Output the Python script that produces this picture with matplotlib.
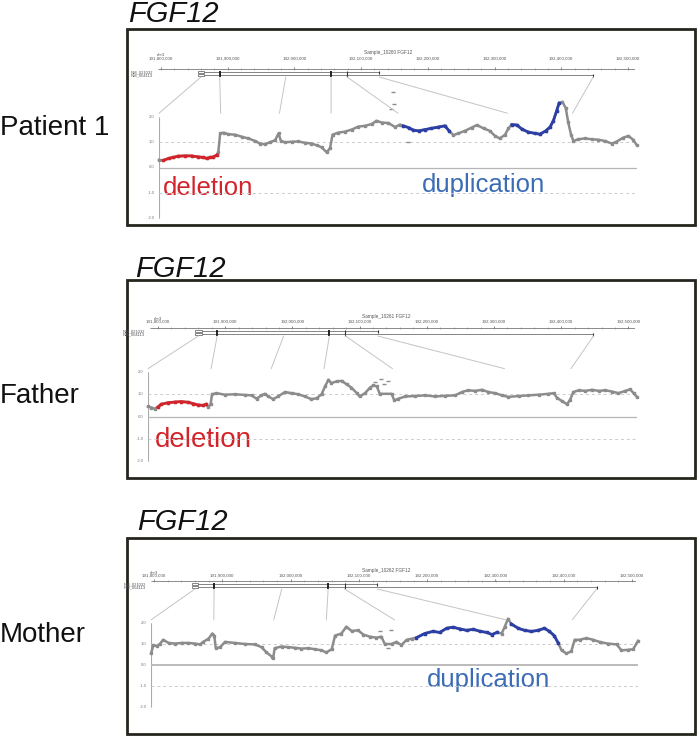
#!/usr/bin/env python3
"""Copy-number tracks across FGF12 for a patient and both parents."""

import matplotlib
matplotlib.use("Agg")
import matplotlib.pyplot as plt
from matplotlib.patches import Rectangle, ConnectionPatch
import numpy as np

plt.rcParams["font.family"] = ["Liberation Sans", "DejaVu Sans"]

W, H = 698, 737

ROW_LABELS = ["Patient 1", "Father", "Mother"]
GENE = "FGF12"
SAMPLES = ["Sample_10260 FGF12", "Sample_10261 FGF12", "Sample_10262 FGF12"]
RULER_TICKS = [191.8, 191.9, 192.0, 192.1, 192.2, 192.3, 192.4, 192.5]
TRANSCRIPTS = ["NM_021032", "NM_004113"]

# gene model (Mb)
TX_START = 191.860
TX_END = [192.127, 192.448]
EXONS = [191.888, 192.055, 192.079]

# zoom lines: gene position (Mb) -> probe position (% of probes)
LINK_GENE = [191.860, 191.888, 191.987, 192.055, 192.079, 192.127, 192.448]
LINK_PROBE = [0.0, 12.9, 25.2, 36.0, 50.0, 72.9, 86.5]

# log-ratio style values along probe position (%)
P1_POS = [0.0, 0.9, 2.0, 3.0, 4.0, 5.4, 6.8, 8.2, 9.3, 10.0, 10.7, 11.4, 12.1, 12.4,
          12.8, 13.5, 14.5, 15.9, 17.3, 18.7, 20.1, 21.1, 22.2, 23.2, 24.3, 25.0, 25.5,
          26.4, 27.8, 29.1, 30.5, 31.9, 33.0, 34.0, 35.1, 35.8, 36.3, 37.5, 38.9, 40.3,
          41.7, 43.1, 44.5, 45.5, 46.6, 48.0, 49.4, 50.4, 51.1, 52.2, 53.2, 54.3, 55.6,
          57.0, 58.4, 59.8, 60.7, 61.6, 62.6, 64.0, 65.4, 66.5, 67.9, 69.2, 70.3, 71.3,
          72.4, 73.1, 73.8, 74.9, 75.9, 77.3, 78.7, 79.7, 80.9, 81.8, 82.5, 83.2, 83.7,
          84.4, 85.1, 85.6, 86.2, 86.7, 87.7, 89.1, 90.5, 91.9, 93.3, 94.7, 95.7, 97.1,
          98.2, 99.2, 99.9]
P1_VAL = [0.30, 0.28, 0.36, 0.40, 0.45, 0.46, 0.46, 0.42, 0.40, 0.36, 0.40, 0.42, 0.50, 0.60,
          1.35, 1.38, 1.32, 1.30, 1.22, 1.15, 1.05, 0.95, 0.92, 1.00, 1.08, 1.35, 1.05,
          1.00, 1.02, 1.03, 0.98, 0.95, 0.88, 0.80, 0.60, 0.78, 1.30, 1.38, 1.42, 1.50,
          1.62, 1.65, 1.72, 1.85, 1.78, 1.76, 1.60, 1.70, 1.65, 1.58, 1.48, 1.45, 1.50,
          1.55, 1.60, 1.65, 1.45, 1.28, 1.35, 1.45, 1.58, 1.68, 1.55, 1.45, 1.25, 1.15,
          1.30, 1.55, 1.70, 1.68, 1.52, 1.40, 1.35, 1.32, 1.45, 1.60, 1.85, 2.25, 2.55,
          2.60, 2.35, 1.80, 1.30, 1.05, 1.12, 1.15, 1.12, 1.10, 1.05, 0.95, 1.02, 1.18,
          1.25, 1.10, 0.90]
P1_OUT_POS = [48.5, 48.9, 49.2, 52.0]
P1_OUT_VAL = [2.3, 3.0, 2.5, 1.0]
P1_DEL = [(0.9, 12.1)]
P1_DUP = [(51.1, 60.7), (73.8, 83.7)]

P2_POS = [0.0, 0.7, 1.4, 2.0, 2.7, 4.1, 5.5, 6.8, 8.2, 9.2, 10.2, 11.3, 11.9, 12.3, 12.8,
          13.1, 14.0, 15.7, 17.7, 19.8, 21.2, 22.2, 23.2, 23.9, 24.6, 25.6, 26.6, 28.0,
          29.4, 30.7, 32.1, 33.4, 34.5, 35.5, 36.2, 36.9, 37.5, 38.6, 39.6, 40.6, 41.6,
          42.7, 43.3, 44.4, 45.4, 46.1, 46.8, 47.4, 49.8, 50.4, 51.2, 52.6, 54.6, 56.7,
          58.7, 60.8, 62.8, 64.2, 65.5, 66.9, 68.3, 69.6, 71.0, 72.4, 73.7, 75.8, 77.8,
          79.9, 81.9, 83.0, 83.6, 84.6, 85.7, 86.3, 87.0, 88.1, 89.4, 90.8, 92.2, 93.5,
          94.9, 96.2, 97.6, 98.6, 99.3, 100.0]
P2_VAL = [0.45, 0.40, 0.35, 0.42, 0.55, 0.62, 0.65, 0.67, 0.64, 0.58, 0.52, 0.50, 0.55, 0.42, 0.55,
          1.00, 1.05, 0.98, 1.00, 0.97, 0.95, 0.80, 0.95, 1.02, 0.90, 0.78, 0.90, 1.10,
          1.05, 1.00, 0.90, 0.78, 0.82, 1.00, 1.35, 1.65, 1.50, 1.58, 1.60, 1.45, 1.30,
          1.05, 0.90, 1.05, 1.30, 1.40, 1.35, 1.02, 1.02, 0.72, 0.80, 0.90, 0.92, 0.95,
          0.90, 0.93, 0.95, 1.10, 1.18, 1.15, 1.20, 1.10, 1.05, 0.95, 0.88, 0.92, 0.95,
          0.98, 1.02, 1.05, 0.85, 0.70, 0.55, 0.75, 1.10, 1.18, 1.15, 1.20, 1.15, 1.18,
          1.12, 1.05, 1.15, 1.22, 1.05, 0.88]
P2_OUT_POS = [46.5, 47.6, 48.3, 49.0]
P2_OUT_VAL = [1.55, 1.70, 1.45, 1.60]
P2_DEL = [(2.0, 11.9)]
P2_DUP = []

P3_POS = [0.0, 0.5, 1.2, 1.8, 2.5, 3.6, 4.9, 6.3, 7.7, 9.0, 10.1, 10.7, 11.8, 12.6, 13.0,
          13.3, 14.2, 15.2, 17.2, 19.3, 21.3, 22.7, 23.7, 24.8, 25.1, 25.4, 26.8, 28.2,
          29.5, 30.9, 32.3, 33.7, 35.0, 36.0, 37.1, 37.8, 39.1, 40.1, 41.2, 42.5, 43.6,
          44.9, 46.3, 47.3, 48.0, 49.4, 50.4, 51.4, 52.5, 53.5, 54.5, 56.2, 57.9, 59.3,
          60.7, 62.0, 63.4, 64.8, 66.2, 67.6, 69.0, 70.0, 71.0, 72.0, 72.6, 73.3, 74.0,
          75.4, 76.7, 78.1, 79.5, 80.8, 81.8, 82.8, 83.6, 84.3, 85.3, 86.3, 87.0, 88.0,
          89.4, 90.8, 92.1, 93.8, 95.6, 96.6, 97.9, 99.0, 100.0]
P3_VAL = [0.55, 0.95, 0.90, 1.00, 1.20, 1.05, 1.02, 1.05, 1.05, 1.02, 0.98, 1.10, 1.25, 1.50, 1.40,
          0.80, 0.85, 1.10, 1.05, 1.00, 0.98, 0.85, 0.60, 0.40, 0.35, 0.80, 0.88, 0.85,
          0.82, 0.78, 0.80, 0.75, 0.70, 0.60, 0.75, 1.40, 1.50, 1.82, 1.62, 1.65, 1.45,
          1.35, 1.30, 1.35, 1.00, 1.00, 1.10, 0.95, 1.20, 1.25, 1.30, 1.50, 1.60, 1.55,
          1.75, 1.80, 1.72, 1.65, 1.70, 1.60, 1.55, 1.45, 1.55, 1.50, 1.80, 2.20, 1.95,
          1.75, 1.65, 1.60, 1.65, 1.75, 1.60, 1.40, 1.05, 0.70, 0.55, 0.65, 1.20, 1.20,
          1.28, 1.20, 1.10, 1.02, 0.98, 0.70, 0.72, 0.75, 1.15]
P3_OUT_POS = [47.0, 48.6, 49.3]
P3_OUT_VAL = [1.60, 0.80, 1.65]
P3_DEL = []
P3_DUP = [(54.5, 71.0), (74.0, 83.6)]

GRAY = "#8c8c8c"
RED = "#d3242b"
BLUE_DOT = "#2c3fa6"
BLUE_TXT = "#3b6cb5"
BOX = "#26261e"

# pixel layout for each panel
PANELS = [
    dict(box=(127, 29, 695, 225), title=(128, 22), label_y=135,
         samp_y=54, lab_y=60, ruler_y=69, tx_y=(72, 75), px0=161, ppm=667, ruler_x=(158, 635),
         data_x=(159, 637), y2=117, ym2=218,
         pos=P1_POS, val=P1_VAL, out=(P1_OUT_POS, P1_OUT_VAL), dele=P1_DEL, dup=P1_DUP,
         texts=[("deletion", 163, 195, RED, 18.5), ("duplication", 422, 192, BLUE_TXT, 18.5)]),
    dict(box=(127, 280, 695, 478), title=(135, 277), label_y=403,
         samp_y=318, lab_y=323, ruler_y=328, tx_y=(331, 334), px0=158, ppm=672, ruler_x=(150, 635),
         data_x=(148, 637), y2=372, ym2=461,
         pos=P2_POS, val=P2_VAL, out=(P2_OUT_POS, P2_OUT_VAL), dele=P2_DEL, dup=P2_DUP,
         texts=[("deletion", 155, 447, RED, 20)]),
    dict(box=(127, 538, 695, 734), title=(137, 530), label_y=642,
         samp_y=572, lab_y=577, ruler_y=581, tx_y=(584, 587), px0=154, ppm=683, ruler_x=(151, 636),
         data_x=(151, 638), y2=623, ym2=707,
         pos=P3_POS, val=P3_VAL, out=(P3_OUT_POS, P3_OUT_VAL), dele=P3_DEL, dup=P3_DUP,
         texts=[("duplication", 427, 687, BLUE_TXT, 18.5)]),
]


def px_axes(fig, x0, y0, x1, y1):
    return fig.add_axes([x0 / W, 1 - y1 / H, (x1 - x0) / W, (y1 - y0) / H])


def draw_panel(fig, page, p, idx):
    bx0, by0, bx1, by1 = p["box"]
    page.add_patch(Rectangle((bx0, by0), bx1 - bx0, by1 - by0, fill=False,
                             edgecolor=BOX, linewidth=2.0, zorder=5))
    page.text(p["title"][0], p["title"][1], GENE, fontsize=21, style="italic",
              ha="left", va="baseline", color="#111111")
    page.text(0, p["label_y"], ROW_LABELS[idx], fontsize=20, ha="left",
              va="baseline", color="#111111")

    # gene / ruler track, x in Mb, y in page pixels
    rx0, rx1 = p["ruler_x"]
    top, bot = p["samp_y"] - 6, p["tx_y"][1] + 4
    g = px_axes(fig, rx0, top, rx1, bot)
    g.set_xlim(191.8 + (rx0 - p["px0"]) / p["ppm"], 191.8 + (rx1 - p["px0"]) / p["ppm"])
    g.set_ylim(bot, top)
    g.axis("off")
    xl = g.get_xlim()
    ry = p["ruler_y"]
    g.hlines(ry, xl[0], xl[1], color="#777777", lw=0.6)
    minor = np.arange(191.78, 192.52, 0.02)
    minor = minor[(minor > xl[0]) & (minor < xl[1])]
    g.vlines(minor, ry - 1, ry + 1, color="#888888", lw=0.4)
    g.vlines(RULER_TICKS, ry - 2.5, ry, color="#666666", lw=0.5)
    for t in RULER_TICKS:
        g.text(t, p["lab_y"], f"{int(round(t * 1e6)):,}", fontsize=3.2, ha="center",
               va="baseline", color="#555555")
    g.text(RULER_TICKS[0], p["lab_y"] - 3.5, "chr3", fontsize=3.2, ha="center",
           va="baseline", color="#555555")
    g.text(192.14, p["samp_y"], SAMPLES[idx], fontsize=3.4, ha="center",
           va="baseline", color="#555555")
    for ty, end, name in zip(p["tx_y"], TX_END, TRANSCRIPTS):
        g.hlines(ty, TX_START, end, color="#555555", lw=0.5)
        g.vlines(end, ty - 1.5, ty + 1.5, color="#333333", lw=0.8)
        g.add_patch(Rectangle((TX_START - 0.005, ty - 1.2), 0.01, 2.4, facecolor="white",
                              edgecolor="#555555", lw=0.5, zorder=3))
        g.text(-0.01, ty, name, transform=g.get_yaxis_transform(), fontsize=3.0,
               ha="right", va="center", color="#555555")
    g.vlines(EXONS[:2], p["tx_y"][0] - 1.5, p["tx_y"][1] + 1.5, color="#222222", lw=1.4)
    g.vlines(EXONS[2:], p["tx_y"][0] - 1.5, p["tx_y"][1] + 1.5, color="#333333", lw=0.8)

    # data track
    dx0, dx1 = p["data_x"]
    ppu = (p["ym2"] - p["y2"]) / 4.0
    d = px_axes(fig, dx0, p["y2"] - 0.2 * ppu, dx1, p["ym2"] + 0.2 * ppu)
    d.set_xlim(0, 100)
    d.set_ylim(-2.2, 2.2)
    d.axis("off")
    d.vlines(0, -2, 2, color="#aaaaaa", lw=0.8)
    for v in [2, 1, 0, -1, -2]:
        d.hlines(v, -0.6, 0, color="#aaaaaa", lw=0.5)
        d.text(-0.9, v, f"{v:.1f}", fontsize=3.0, ha="right", va="center", color="#777777")
    d.axhline(0, color="#b5b5b5", lw=1.3 if idx == 2 else 0.9)
    for v in [1, -1]:
        d.axhline(v, color="#cccccc", lw=0.7, dashes=(3, 3))

    pos = np.array(p["pos"])
    val = np.array(p["val"])
    d.plot(pos, val, color=GRAY, lw=1.8, marker="s", ms=1.8, clip_on=False, zorder=3)
    d.plot(p["out"][0], p["out"][1], ls="none", marker="_", ms=3, color=GRAY, clip_on=False)
    for segs, col in [(p["dele"], RED), (p["dup"], BLUE_DOT)]:
        for a, b in segs:
            m = (pos >= a) & (pos <= b)
            d.plot(pos[m], val[m], color=col, lw=2.0, marker="s", ms=2.0,
                   clip_on=False, zorder=4)

    for gx, px in zip(LINK_GENE, LINK_PROBE):
        con = ConnectionPatch(xyA=(gx, p["tx_y"][1] + 2), coordsA=g.transData,
                              xyB=(px, 2.15), coordsB=d.transData,
                              color="#c4c4c4", lw=0.7)
        fig.add_artist(con)

    for txt, x, y, col, fs in p["texts"]:
        page.text(x, y, txt, fontsize=fs, color=col, ha="left", va="baseline")


def main():
    fig = plt.figure(figsize=(W / 100, H / 100), dpi=100)
    page = fig.add_axes([0, 0, 1, 1])
    page.set_xlim(0, W)
    page.set_ylim(H, 0)
    page.axis("off")
    for i, p in enumerate(PANELS):
        draw_panel(fig, page, p, i)
    fig.savefig("out.png", dpi=100)
    plt.close(fig)


if __name__ == "__main__":
    main()
